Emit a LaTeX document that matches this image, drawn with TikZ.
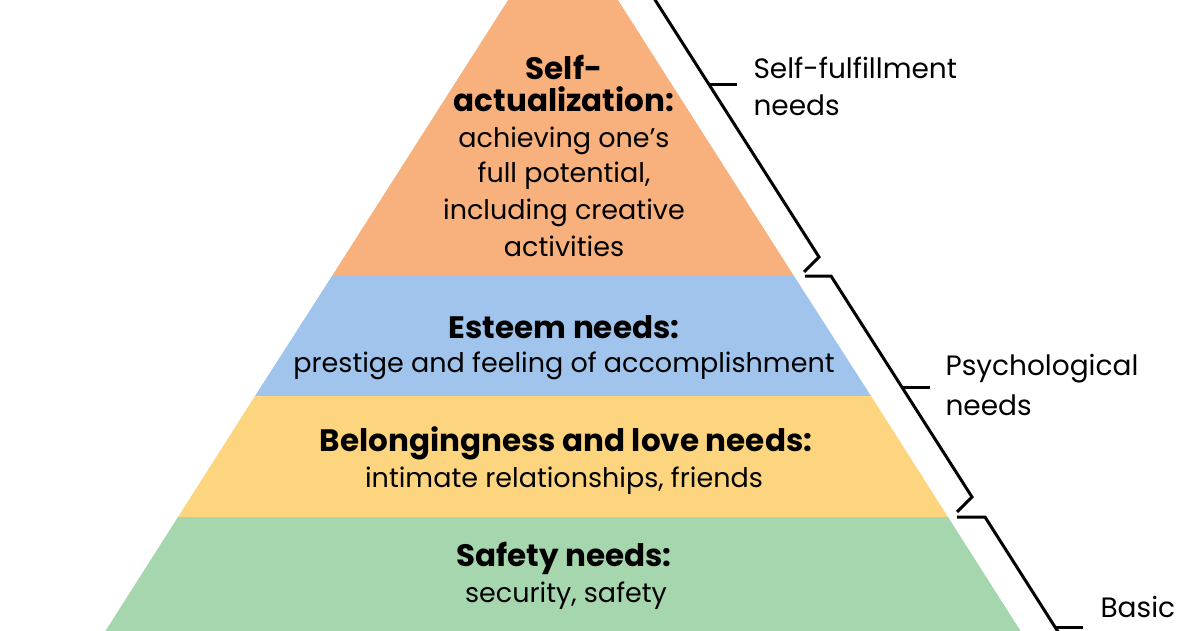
\documentclass[tikz,border=0pt]{standalone}
\usepackage{fontspec}
\setmainfont{Poppins}
\usepackage{tikz}
\definecolor{topcol}{HTML}{F8B07C}
\definecolor{esteemcol}{HTML}{A0C4EC}
\definecolor{lovecol}{HTML}{FDD57F}
\definecolor{safecol}{HTML}{A5D6AE}

\begin{document}
\begin{tikzpicture}[x=1pt,y=-1pt,
    head/.style={anchor=base,font=\bfseries\fontsize{31}{36}\selectfont},
    body/.style={anchor=base,font=\fontsize{27}{34}\selectfont},
    side/.style={anchor=base west,font=\fontsize{28}{34}\selectfont},
    brace/.style={line width=3pt,line join=miter}]
        \useasboundingbox (0,0) rectangle (1200,630);
        \clip (0,0) rectangle (1200,630);
        \fill[white] (0,0) rectangle (1200,630);
        \fill[topcol] (563,-86) -- (794,276) -- (332,276) -- cycle;
        \fill[esteemcol] (332,276) -- (794,276) -- (871,396) -- (255,396) -- cycle;
        \fill[lovecol] (255,396) -- (871,396) -- (948,517) -- (178,517) -- cycle;
        \fill[safecol] (178,517) -- (948,517) -- (1039,660) -- (87,660) -- cycle;
        \node[head] (selfA) at (564,79) {Self-};
        \node[head] (selfB) at (564,111) {actualization:};
        \node[body] (selfC) at (564,147) {achieving one’s};
        \node[body] (selfD) at (564,182) {full potential,};
        \node[body] (selfE) at (564,219) {including creative};
        \node[body] (selfF) at (564,256) {activities};
        \node[head] (esteemA) at (564,338) {Esteem needs:};
        \node[body] (esteemB) at (564,372) {prestige and feeling of accomplishment};
        \node[head] (loveA) at (566,451) {Belongingness and love needs:};
        \node[body] (loveB) at (564,487) {intimate relationships, friends};
        \node[head] (safeA) at (564,566) {Safety needs:};
        \node[body] (safeB) at (566,602) {security, safety};
        \draw[brace] (636,-30) -- (819,257) -- (804,272);
        \draw[brace] (709,84) -- (737,84);
        \draw[brace] (805,276) -- (831,276) -- (972,497) -- (957,512);
        \draw[brace] (902,387) -- (930,387);
        \draw[brace] (957,517) -- (985,517) -- (1076,660);
        \draw[brace] (1055,627) -- (1083,627);
        \node[side] (fulfilA) at (750,78) {Self-fulfillment};
        \node[side] (fulfilB) at (750,115) {needs};
        \node[side] (psychA) at (942,375) {Psychological};
        \node[side] (psychB) at (942,415) {needs};
        \node[side] (basicA) at (1097,617) {Basic};
        \node[side] (basicB) at (1097,652) {needs};
\end{tikzpicture}
\end{document}
